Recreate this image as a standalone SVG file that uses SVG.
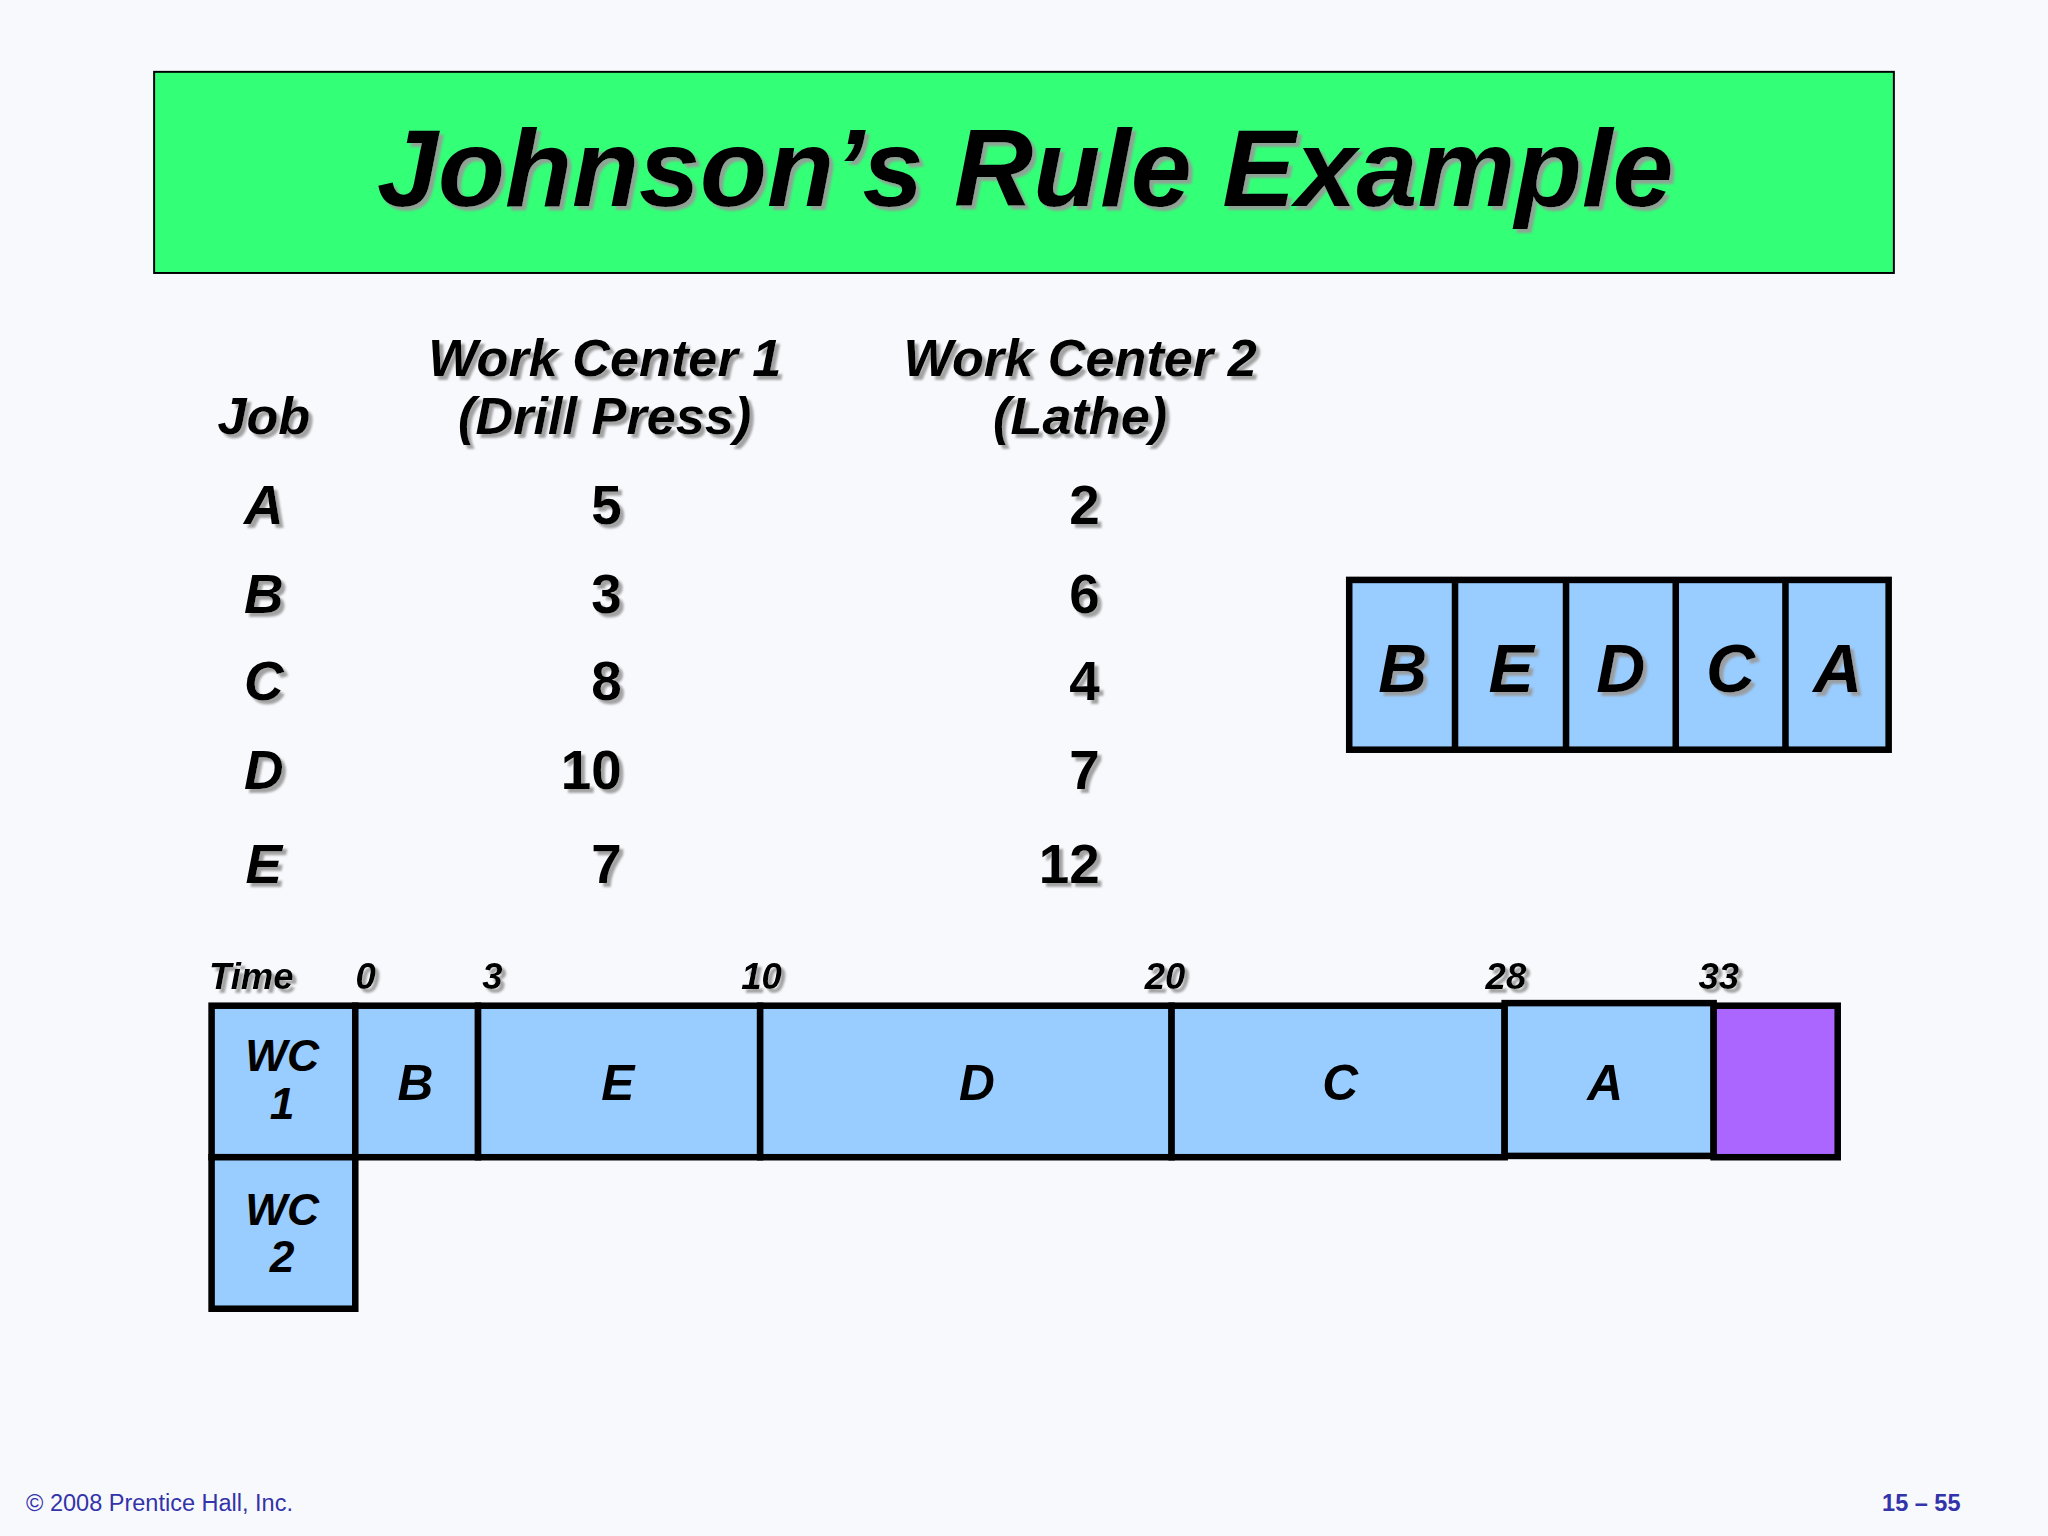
<svg xmlns="http://www.w3.org/2000/svg" width="2048" height="1536" viewBox="0 0 2048 1536">
<defs>
<filter id="sh" x="-10%" y="-10%" width="130%" height="140%"><feDropShadow dx="3" dy="3" stdDeviation="0.8" flood-color="#999" flood-opacity="0.9"/></filter>
</defs>
<style>
.t{font-family:"Liberation Sans",Arial,sans-serif;font-weight:bold;fill:#000}
.i{font-style:italic}
.c{text-anchor:middle}
.r{text-anchor:end}
.bar{fill:#99ccff;stroke:#000;stroke-width:5}
</style>
<rect width="2048" height="1536" fill="#f8f9fd"/>
<g transform="scale(1.30612)">
<g id="title"><rect x="118" y="55" width="1332" height="154" fill="#33ff77" stroke="#000" stroke-width="1.5"/>
<text class="t i c" x="785" y="158" font-size="84" filter="url(#sh)">Johnson’s Rule Example</text></g>
<g id="table" filter="url(#sh)">
<text class="t i c" x="202" y="332" font-size="40">Job</text>
<text class="t i c" x="463" y="288" font-size="40">Work Center 1</text>
<text class="t i c" x="463" y="332" font-size="40">(Drill Press)</text>
<text class="t i c" x="827" y="288" font-size="40">Work Center 2</text>
<text class="t i c" x="827" y="332" font-size="40">(Lathe)</text>
<g font-size="42">
<text class="t i c" x="202" y="401">A</text><text class="t r" x="476" y="401">5</text><text class="t r" x="842" y="401">2</text>
<text class="t i c" x="202" y="469">B</text><text class="t r" x="476" y="469">3</text><text class="t r" x="842" y="469">6</text>
<text class="t i c" x="202" y="536">C</text><text class="t r" x="476" y="536">8</text><text class="t r" x="842" y="536">4</text>
<text class="t i c" x="202" y="604">D</text><text class="t r" x="476" y="604">10</text><text class="t r" x="842" y="604">7</text>
<text class="t i c" x="202" y="676">E</text><text class="t r" x="476" y="676">7</text><text class="t r" x="842" y="676">12</text>
</g></g>
<g id="sequence">
<rect class="bar" x="1033" y="444" width="413" height="130"/>
<path d="M1114 444V574M1199 444V574M1283 444V574M1367 444V574" stroke="#000" stroke-width="5"/>
<g font-size="52" filter="url(#sh)">
<text class="t i c" x="1074" y="530">B</text><text class="t i c" x="1157" y="530">E</text><text class="t i c" x="1241" y="530">D</text><text class="t i c" x="1325" y="530">C</text><text class="t i c" x="1407" y="530">A</text></g></g>
<g id="time" font-size="28" filter="url(#sh)">
<text class="t i" x="160" y="757">Time</text>
<text class="t i c" x="280" y="757">0</text><text class="t i c" x="377" y="757">3</text><text class="t i c" x="583" y="757">10</text><text class="t i c" x="892" y="757">20</text><text class="t i c" x="1153" y="757">28</text><text class="t i c" x="1316" y="757">33</text></g>
<g id="gantt">
<rect class="bar" x="162" y="770" width="110" height="116"/>
<rect class="bar" x="162" y="886" width="110" height="116"/>
<rect class="bar" x="272" y="770" width="94" height="116"/>
<rect class="bar" x="366" y="770" width="216" height="116"/>
<rect class="bar" x="582" y="770" width="315" height="116"/>
<rect class="bar" x="897" y="770" width="255" height="116"/>
<rect class="bar" x="1152" y="768" width="160" height="117"/>
<rect x="1312" y="770" width="95" height="116" fill="#aa66ff" stroke="#000" stroke-width="5"/>
<g font-size="34">
<text class="t i c" x="216" y="820">WC</text><text class="t i c" x="216" y="857">1</text>
<text class="t i c" x="216" y="938">WC</text><text class="t i c" x="216" y="974">2</text></g>
<g font-size="38">
<text class="t i c" x="318" y="842">B</text><text class="t i c" x="473" y="842">E</text><text class="t i c" x="748" y="842">D</text><text class="t i c" x="1026" y="842">C</text><text class="t i c" x="1229" y="842">A</text></g></g>
<g id="footer" font-family="Liberation Sans,Arial,sans-serif" font-size="18" fill="#3333aa">
<text x="20" y="1157">© 2008 Prentice Hall, Inc.</text>
<text x="1501" y="1157" text-anchor="end" font-weight="bold">15 – 55</text></g>
</g>
</svg>
